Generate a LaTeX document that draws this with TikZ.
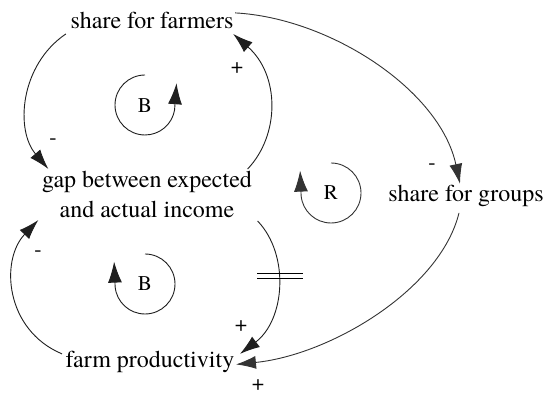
\documentclass[tikz,border=0pt]{standalone}
\usepackage{fontspec}
\setmainfont{texgyretermes-regular.otf}
\usetikzlibrary{arrows.meta}
\begin{document}
\begin{tikzpicture}[x=1pt,y=1pt,
  var/.style={inner sep=1.5pt, font=\fontsize{24}{30}\selectfont, align=center},
  sgn/.style={inner sep=0pt, font=\fontsize{22}{24}\selectfont},
  loopname/.style={inner sep=0pt, font=\fontsize{21}{22}\selectfont},
  link/.style={line width=0.9pt, draw=black!88, -{Latex[length=20pt,width=13pt]}},
  loopline/.style={line width=0.9pt, draw=black!88, -{Latex[length=21pt,width=14pt]}}]
\useasboundingbox (0,0) rectangle (547,395);
% variables
\node[var, anchor=base] (sf) at (152,366) {share for farmers};
\node[var] (gap) at (147,201) {gap between expected\\and actual income};
\node[var, anchor=base] (sg) at (466,193) {share for groups};
\node[var, anchor=base] (fp) at (150,27) {farm productivity};
% links
\draw[link] ([xshift=-3pt,yshift=-3pt]sf.south west) .. controls (20,330) and (15,265) .. ([xshift=8pt]gap.north west);
\draw[link] ([xshift=-6pt]gap.north east) .. controls (280,260) and (280,320) .. ([xshift=-2pt,yshift=-3pt]sf.south east);
\draw[link, draw=black!80] ([yshift=-2pt]sf.north east) .. controls (330,377) and (440,305) .. ([xshift=-6pt]sg.north);
\draw[link, draw=black!80] ([xshift=-7pt,yshift=-4pt]sg.south) .. controls (440,105) and (330,40) .. ([yshift=-2pt]fp.east);
\draw[link] ([xshift=4pt,yshift=-2pt]gap.south east) .. controls (290,140) and (285,75) .. coordinate[pos=0.42] (dm) ([xshift=4pt,yshift=-4pt]fp.north east);
\draw[link] ([xshift=-2pt,yshift=-4pt]fp.north west) .. controls (5,65) and (0,135) .. ([yshift=-1pt,xshift=-2pt]gap.south west);
% delay mark
\draw[line width=0.9pt] ([xshift=-21pt,yshift=2.5pt]dm) -- ([xshift=25pt,yshift=2.5pt]dm)
  ([xshift=-21pt,yshift=-2.5pt]dm) -- ([xshift=25pt,yshift=-2.5pt]dm);
% polarity signs
\node[sgn] (s1) at (53,253) {-};
\node[sgn] (s2) at (237,327) {+};
\node[sgn] (s3) at (432,228) {-};
\node[sgn] (s4) at (258,10) {+};
\node[sgn] (s5) at (241,69) {+};
\node[sgn] (s6) at (38,141) {-};
% loops
\node[loopname] (b1) at (145,289) {B};
\draw[loopline] (145,320) arc[start angle=90, end angle=350, radius=30] -- ++(2,27);
\node[loopname] (b2) at (145,111) {B};
\draw[loopline] (145,141) arc[start angle=90, end angle=-175, radius=30] -- ++(-1,25);
\node[loopname] (r1) at (331,202) {R};
\draw[loopline, draw=black!80] (331,232) arc[start angle=90, end angle=-175, radius=30] -- ++(-1,25);
\end{tikzpicture}
\end{document}
